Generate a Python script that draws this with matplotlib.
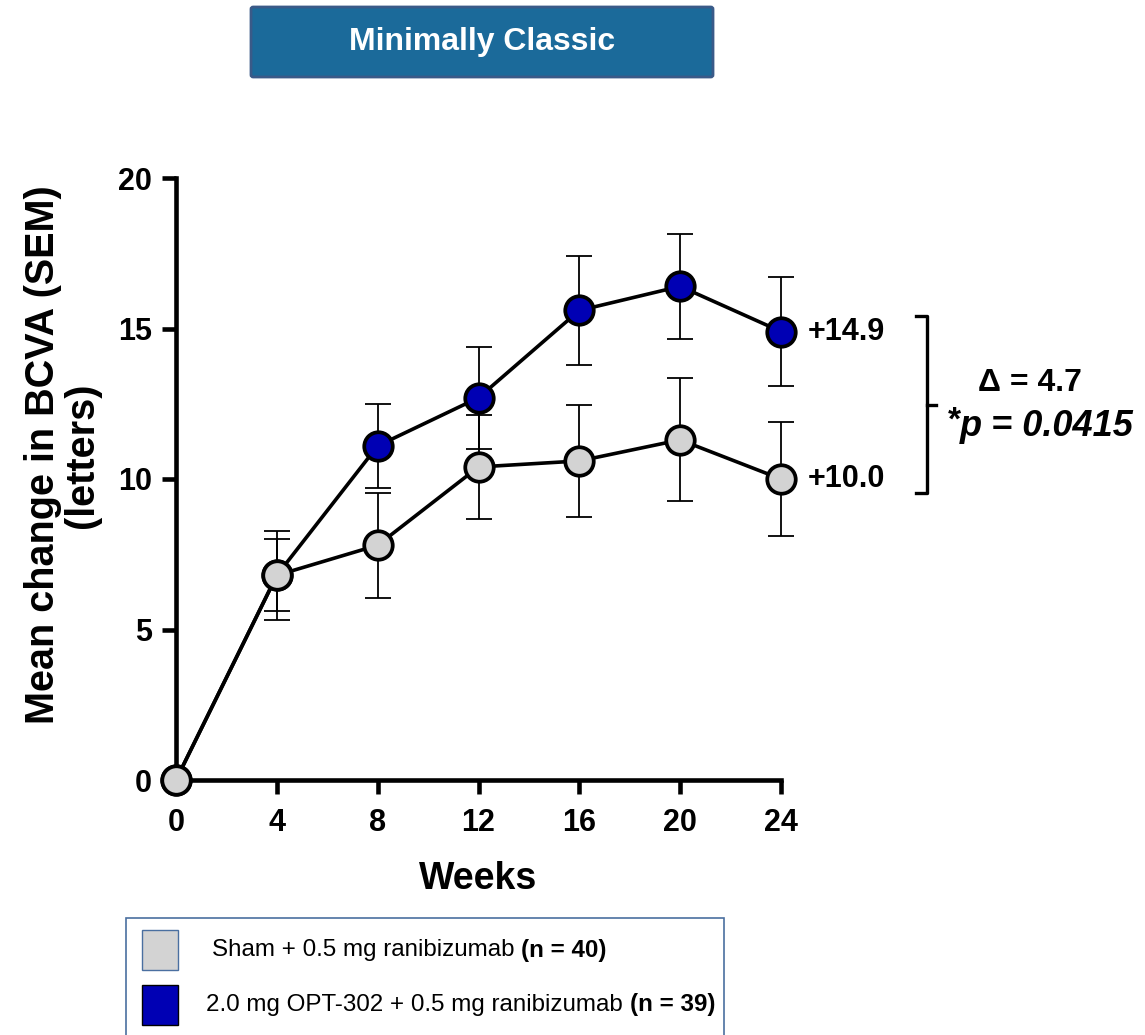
import matplotlib.pyplot as plt
from matplotlib.patches import Rectangle, FancyBboxPatch
from matplotlib.lines import Line2D

plt.rcParams["font.family"] = ["Liberation Sans", "DejaVu Sans"]

# data
weeks = [0, 4, 8, 12, 16, 20, 24]
sham_mean = [0, 6.8, 7.8, 10.4, 10.6, 11.3, 10.0]
sham_sem = [0, 1.47, 1.75, 1.72, 1.87, 2.04, 1.9]
opt_mean = [0, 6.8, 11.1, 12.7, 15.6, 16.4, 14.9]
opt_sem = [0, 1.2, 1.4, 1.7, 1.8, 1.75, 1.8]
end_labels = ["+14.9", "+10.0"]
legend_labels = ["Sham + 0.5 mg ranibizumab ", "2.0 mg OPT-302 + 0.5 mg ranibizumab "]
legend_n = ["(n = 40)", "(n = 39)"]

grey = "#d3d3d3"
blue = "#0000b4"

W, H = 1145, 1035
fig = plt.figure(figsize=(W / 100, H / 100), dpi=100)


def fx(px):
    return px / W


def fy(py):
    return 1 - py / H


ax = fig.add_axes([fx(176), fy(780), fx(781) - fx(176), fy(178) - fy(780)])

# blue series first, grey on top (grey covers blue at week 4)
for mean, sem, col, z in [(opt_mean, opt_sem, blue, 3), (sham_mean, sham_sem, grey, 4)]:
    ax.errorbar(weeks[1:], mean[1:], yerr=sem[1:], fmt="none", ecolor="black",
                elinewidth=1.3, capsize=9.5, capthick=1.3, zorder=z, clip_on=False)
    ax.plot(weeks, mean, color="black", lw=2.6, marker="o", markersize=20.5,
            markerfacecolor=col, markeredgecolor="black", markeredgewidth=2.7,
            zorder=z + 0.5, clip_on=False)

ax.set_xlim(0, 24)
ax.set_ylim(0, 20)
ax.set_xticks(weeks)
ax.set_yticks([0, 5, 10, 15, 20])
for s in ["top", "right"]:
    ax.spines[s].set_visible(False)
for s in ["left", "bottom"]:
    ax.spines[s].set_linewidth(3.3)
ax.tick_params(width=3.3, length=10, labelsize=22)
ax.tick_params(axis="x", pad=10)
ax.tick_params(axis="y", pad=7.5)
for lbl in ax.get_xticklabels() + ax.get_yticklabels():
    lbl.set_fontweight("bold")

ax.set_xlabel("Weeks", fontsize=27, fontweight="bold", labelpad=17)
ax.set_ylabel("Mean change in BCVA (SEM)\n(letters)", fontsize=28.5,
              fontweight="bold", labelpad=12, linespacing=1.05)
ax.yaxis.label.set_y(0.54)

# end-of-line values
for lab, val in zip(end_labels, [opt_mean[-1], sham_mean[-1]]):
    ax.annotate(lab, (24, val), xytext=(19, 0), textcoords="offset points",
                va="center", fontsize=22, fontweight="bold", annotation_clip=False)

# bracket
bx = [fx(916), fx(927), fx(927), fx(916)]
by = [fy(316), fy(316), fy(493), fy(493)]
fig.add_artist(Line2D(bx, by, color="black", lw=2.4, transform=fig.transFigure))
fig.add_artist(Line2D([fx(927), fx(936)], [fy(405), fy(405)], color="black", lw=2.4,
                      transform=fig.transFigure))
fig.text(fx(1030), fy(383), "Δ = 4.7", fontsize=23, fontweight="bold",
         ha="center", va="center")
fig.text(fx(961), fy(421), "*", fontsize=24, fontweight="bold",
         ha="right", va="center")
fig.text(fx(960), fy(427), "p = 0.0415", fontsize=26, fontweight="bold",
         fontstyle="italic", ha="left", va="center")

# title box
fig.add_artist(FancyBboxPatch((fx(251), fy(77)), fx(713) - fx(251), fy(7) - fy(77),
                              boxstyle="round,pad=0,rounding_size=0.002",
                              facecolor="#1b6a9a", edgecolor="#3a5a88", lw=2,
                              transform=fig.transFigure))
fig.text(fx(482), fy(42), "Minimally Classic", color="white", fontsize=23,
         fontweight="bold", ha="center", va="center")

# legend box
fig.add_artist(Rectangle((fx(126), fy(1040)), fx(724) - fx(126), fy(918) - fy(1040),
                         facecolor="white", edgecolor="#4a6fa0", lw=1.2,
                         transform=fig.transFigure))
for i, (lab, n, col) in enumerate(zip(legend_labels, legend_n, [grey, blue])):
    yc = 950 + i * 55
    ec = "#4a6fa0" if i == 0 else "black"
    fig.add_artist(Rectangle((fx(142), fy(yc + 20)), fx(178) - fx(142), fy(yc - 20) - fy(yc + 20),
                             facecolor=col, edgecolor=ec, lw=1, transform=fig.transFigure))
    tx = 212 if i == 0 else 206
    t = fig.text(fx(tx), fy(yc), lab, fontsize=17.4, ha="left", va="center")
    fig.canvas.draw()
    bb = t.get_window_extent()
    fig.text(bb.x1 / W, fy(yc), n, fontsize=17.4, fontweight="bold", ha="left", va="center")

fig.savefig("out.png", dpi=100)
